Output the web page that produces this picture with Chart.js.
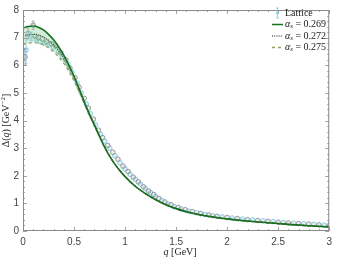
<!DOCTYPE html>
<html>
<head>
<meta charset="utf-8">
<script src="https://cdn.jsdelivr.net/npm/chart.js@4"></script>
<style>
  html, body { margin: 0; padding: 0; background: #fff; }
  #wrap { width: 337px; height: 259px; }
</style>
</head>
<body>
<div id="wrap"><canvas id="chart" width="337" height="259"></canvas></div>
<script>
// curvas teoricas
const qCurve = [0, 0.05, 0.1, 0.15, 0.2, 0.25, 0.3, 0.35, 0.4, 0.45, 0.5, 0.55, 0.6, 0.65, 0.7, 0.75, 0.8, 0.85, 0.9, 0.95, 1.0,
  1.1, 1.2, 1.3, 1.4, 1.5, 1.6, 1.8, 2.0, 2.2, 2.4, 2.6, 2.8, 3.0];
const delta269 = [7.35, 7.4, 7.42, 7.38, 7.28, 7.12, 6.92, 6.66, 6.36, 6.0, 5.6, 5.15, 4.68, 4.24, 3.84, 3.42, 3.04, 2.7, 2.42, 2.18, 1.97,
  1.62, 1.35, 1.13, 0.95, 0.81, 0.7, 0.54, 0.44, 0.36, 0.3, 0.24, 0.19, 0.15];
const delta272 = [7.05, 7.1, 7.12, 7.1, 7.03, 6.9, 6.74, 6.52, 6.25, 5.92, 5.55, 5.12, 4.66, 4.22, 3.83, 3.42, 3.04, 2.7, 2.42, 2.18, 1.97,
  1.62, 1.35, 1.13, 0.95, 0.81, 0.7, 0.54, 0.44, 0.36, 0.3, 0.24, 0.19, 0.15];
const delta275 = [6.75, 6.8, 6.82, 6.8, 6.74, 6.63, 6.49, 6.3, 6.07, 5.78, 5.44, 5.05, 4.62, 4.2, 3.82, 3.41, 3.03, 2.7, 2.42, 2.18, 1.97,
  1.62, 1.35, 1.13, 0.95, 0.81, 0.7, 0.54, 0.44, 0.36, 0.3, 0.24, 0.19, 0.15];

// datos de la red (dos conjuntos)
const latQ1 = [0.03, 0.08, 0.13, 0.17, 0.21, 0.26, 0.3, 0.35, 0.39, 0.44, 0.48, 0.53, 0.57, 0.62, 0.66, 0.71, 0.76, 0.8, 0.85, 0.9, 0.95,
  1.0, 1.05, 1.1, 1.15, 1.2, 1.25, 1.3, 1.36, 1.42, 1.48, 1.55, 1.62, 1.7, 1.78, 1.86, 1.95, 2.05, 2.15, 2.25, 2.35, 2.45, 2.55, 2.65, 2.75, 2.85, 2.95];
const latD1 = [6.55, 7.05, 6.95, 6.85, 6.8, 6.75, 6.65, 6.5, 6.3, 6.05, 5.75, 5.35, 5.0, 4.6, 4.25, 3.85, 3.5, 3.25, 3.0, 2.72, 2.47,
  2.25, 2.05, 1.87, 1.7, 1.53, 1.39, 1.25, 1.1, 0.98, 0.88, 0.8, 0.72, 0.66, 0.6, 0.55, 0.51, 0.47, 0.43, 0.4, 0.37, 0.34, 0.31, 0.28, 0.26, 0.24, 0.21];
const latE1 = [0.5, 0.15, 0.1, 0.06, 0.05, 0.05, 0.04, 0.04, 0.04, 0.03, 0.03, 0.03, 0.03, 0.03, 0.02, 0.02, 0.02, 0.02, 0.02, 0.02, 0.02,
  0.02, 0.02, 0.02, 0.02, 0.02, 0.01, 0.01, 0.01, 0.01, 0.01, 0.01, 0.01, 0.01, 0.01, 0.01, 0.01, 0.01, 0.01, 0.01, 0.01, 0.01, 0.01, 0.01, 0.01, 0.01, 0.01];
const latQ2 = [0.02, 0.05, 0.1, 0.12, 0.15, 0.19, 0.23, 0.28, 0.32, 0.37, 0.42, 0.46, 0.51, 0.55, 0.6, 0.64, 0.69, 0.74, 0.78, 0.83, 0.88, 0.93,
  0.98, 1.03, 1.08, 1.13, 1.18, 1.23, 1.28, 1.33, 1.39, 1.45, 1.52, 1.59, 1.66, 1.74, 1.82, 1.9, 2.0, 2.1, 2.2, 2.3, 2.4, 2.5, 2.6, 2.7, 2.8, 2.9, 3.0];
const latD2 = [6.3, 7.15, 7.45, 7.05, 7.0, 6.95, 6.85, 6.78, 6.7, 6.45, 6.2, 5.9, 5.55, 5.2, 4.8, 4.45, 4.05, 3.65, 3.38, 3.1, 2.85, 2.6,
  2.35, 2.15, 1.95, 1.78, 1.6, 1.45, 1.32, 1.18, 1.05, 0.95, 0.85, 0.77, 0.7, 0.63, 0.58, 0.53, 0.49, 0.45, 0.41, 0.38, 0.35, 0.32, 0.29, 0.27, 0.25, 0.22, 0.2];
const latE2 = [0.3, 0.2, 0.15, 0.08, 0.06, 0.05, 0.05, 0.04, 0.04, 0.04, 0.03, 0.03, 0.03, 0.03, 0.03, 0.02, 0.02, 0.02, 0.02, 0.02, 0.02, 0.02,
  0.02, 0.02, 0.02, 0.02, 0.02, 0.01, 0.01, 0.01, 0.01, 0.01, 0.01, 0.01, 0.01, 0.01, 0.01, 0.01, 0.01, 0.01, 0.01, 0.01, 0.01, 0.01, 0.01, 0.01, 0.01, 0.01, 0.01];

const xTicks = [0, 0.5, 1, 1.5, 2, 2.5, 3];
const yTicks = [0, 1, 2, 3, 4, 5, 6, 7, 8];
const alphaLabels = ['0.269', '0.272', '0.275'];

const serif = "'Liberation Serif', 'DejaVu Serif', serif";
const sans = "'Liberation Sans', 'DejaVu Sans', sans-serif";
const green = '#17701f';
const olive = '#9a9a5c';
const blueLat = '#7fc6e4';
const grayLat = '#8e8e8e';

const toXY = (xs, ys) => xs.map((x, i) => ({ x: x, y: ys[i] }));

// dibuja trozos de texto con distinto estilo uno tras otro
function drawRuns(ctx, runs, x, y) {
  let cx = x;
  runs.forEach(r => {
    ctx.font = r.font;
    ctx.fillText(r.t, cx, y + (r.dy || 0));
    cx += ctx.measureText(r.t).width;
  });
  return cx;
}
function runsWidth(ctx, runs) {
  let w = 0;
  runs.forEach(r => { ctx.font = r.font; w += ctx.measureText(r.t).width; });
  return w;
}

// marco, ticks hacia dentro, barras de error, titulos y leyenda
const framePlugin = {
  id: 'frame',
  afterDatasetsDraw(chart) {
    const { ctx, chartArea: a, scales } = chart;
    const xs = scales.x, ys = scales.y;
    ctx.save();
    chart.data.datasets.forEach(ds => {
      if (!ds.err) return;
      ctx.strokeStyle = ds.errColor;
      ctx.lineWidth = 0.8;
      ds.data.forEach((p, i) => {
        const e = ds.err[i];
        const px = xs.getPixelForValue(p.x);
        const top = ys.getPixelForValue(p.y + e);
        const bot = ys.getPixelForValue(p.y - e);
        if (bot - top < 6) return;
        ctx.beginPath();
        ctx.moveTo(px, top); ctx.lineTo(px, bot);
        ctx.moveTo(px - 1.5, top); ctx.lineTo(px + 1.5, top);
        ctx.moveTo(px - 1.5, bot); ctx.lineTo(px + 1.5, bot);
        ctx.stroke();
      });
    });
    // marco
    ctx.strokeStyle = '#8a8a8a';
    ctx.lineWidth = 1;
    ctx.strokeRect(a.left + 0.5, a.top + 0.5, a.right - a.left - 1, a.bottom - a.top - 1);
    ctx.lineWidth = 0.8;
    ctx.beginPath();
    for (let v = 0; v <= 30; v++) {
      const px = Math.round(xs.getPixelForValue(v / 10)) + 0.5;
      const len = v % 5 === 0 ? 4 : 2;
      ctx.moveTo(px, a.bottom); ctx.lineTo(px, a.bottom - len);
      ctx.moveTo(px, a.top); ctx.lineTo(px, a.top + len);
    }
    for (let v = 0; v <= 40; v++) {
      const py = Math.round(ys.getPixelForValue(v / 5)) + 0.5;
      const len = v % 5 === 0 ? 4 : 2;
      ctx.moveTo(a.left, py); ctx.lineTo(a.left + len, py);
      ctx.moveTo(a.right, py); ctx.lineTo(a.right - len, py);
    }
    ctx.stroke();

    // titulos de ejes
    const it = 'italic 10px ' + serif, rm = '10px ' + serif, sm = '7px ' + serif;
    ctx.fillStyle = '#222';
    ctx.textBaseline = 'middle';
    ctx.textAlign = 'left';
    const xRuns = [{ t: 'q', font: it }, { t: ' [GeV]', font: rm }];
    const xw = runsWidth(ctx, xRuns);
    drawRuns(ctx, xRuns, (a.left + a.right) / 2 - xw / 2 + 4, 252.5);

    const yRuns = [{ t: 'Δ(', font: rm }, { t: 'q', font: it }, { t: ') [GeV', font: rm }, { t: '−2', font: sm, dy: -3 }, { t: ']', font: rm }];
    const yw = runsWidth(ctx, yRuns);
    ctx.save();
    ctx.translate(6, (a.top + a.bottom) / 2);
    ctx.rotate(-Math.PI / 2);
    drawRuns(ctx, yRuns, -yw / 2, 0);
    ctx.restore();

    // leyenda
    const lx = 272, ty = 13, step = 11.5;
    ctx.strokeStyle = blueLat;
    ctx.lineWidth = 0.8;
    ctx.beginPath();
    ctx.moveTo(277.5, ty - 5); ctx.lineTo(277.5, ty + 5);
    ctx.moveTo(276, ty - 5); ctx.lineTo(279, ty - 5);
    ctx.moveTo(276, ty + 5); ctx.lineTo(279, ty + 5);
    ctx.stroke();
    ctx.beginPath(); ctx.arc(277.5, ty, 1.2, 0, Math.PI * 2); ctx.stroke();
    ctx.font = rm;
    ctx.fillText('Lattice', 285, ty);
    const styles = [
      { color: green, dash: [], w: 1.5 },
      { color: '#111', dash: [1, 1.2], w: 1.2 },
      { color: olive, dash: [3, 3], w: 1.4 }
    ];
    styles.forEach((s, i) => {
      const y = ty + step * (i + 1);
      ctx.strokeStyle = s.color;
      ctx.lineWidth = s.w;
      ctx.setLineDash(s.dash);
      ctx.beginPath(); ctx.moveTo(lx, y); ctx.lineTo(lx + 11, y); ctx.stroke();
      ctx.setLineDash([]);
      drawRuns(ctx, [{ t: 'α', font: it }, { t: 's', font: 'italic 7px ' + serif, dy: 2 }, { t: ' = ' + alphaLabels[i], font: rm }], 285, y);
    });
    ctx.restore();
  }
};

new Chart(document.getElementById('chart').getContext('2d'), {
  type: 'scatter',
  data: {
    datasets: [
      {
        label: 'αs = ' + alphaLabels[0],
        data: toXY(qCurve, delta269),
        showLine: true,
        borderColor: green,
        borderWidth: 1.6,
        pointRadius: 0,
        cubicInterpolationMode: 'monotone',
        fill: { target: 2 },
        backgroundColor: 'rgba(130, 210, 150, 0.35)',
        order: 1
      },
      {
        label: 'αs = ' + alphaLabels[1],
        data: toXY(qCurve, delta272),
        showLine: true,
        borderColor: '#111',
        borderWidth: 1.2,
        borderDash: [1, 1.2],
        pointRadius: 0,
        cubicInterpolationMode: 'monotone',
        order: 1
      },
      {
        label: 'αs = ' + alphaLabels[2],
        data: toXY(qCurve, delta275),
        showLine: true,
        borderColor: olive,
        borderWidth: 1.4,
        borderDash: [3, 3],
        pointRadius: 0,
        cubicInterpolationMode: 'monotone',
        order: 1
      },
      {
        label: 'Lattice',
        data: toXY(latQ1, latD1),
        err: latE1,
        errColor: blueLat,
        pointRadius: 2.3,
        borderWidth: 0.9,
        borderColor: blueLat,
        backgroundColor: 'rgba(127, 198, 228, 0.25)',
        order: 3
      },
      {
        label: 'Lattice 2',
        data: toXY(latQ2, latD2),
        err: latE2,
        errColor: '#a0a0a0',
        pointRadius: 2.3,
        borderWidth: 0.9,
        borderColor: grayLat,
        backgroundColor: 'rgba(160, 160, 160, 0.2)',
        order: 2
      }
    ]
  },
  options: {
    responsive: false,
    animation: false,
    layout: { padding: { top: 3, right: 3, left: 0, bottom: 0 } },
    plugins: { legend: { display: false }, tooltip: { enabled: false } },
    scales: {
      x: {
        type: 'linear', min: 0, max: 3,
        afterBuildTicks: s => { s.ticks = xTicks.map(v => ({ value: v })); },
        afterFit: s => { s.height = 28; },
        ticks: { font: { family: sans, size: 10 }, color: '#444', padding: 5, maxRotation: 0, callback: v => String(v) },
        grid: { display: false, drawTicks: false, tickLength: 0 },
        border: { display: false },
        title: { display: false }
      },
      y: {
        type: 'linear', min: 0, max: 8,
        afterBuildTicks: s => { s.ticks = yTicks.map(v => ({ value: v })); },
        afterFit: s => { s.width = 23; },
        ticks: { font: { family: sans, size: 10 }, color: '#444', padding: 4, callback: v => String(v) },
        grid: { display: false, drawTicks: false, tickLength: 0 },
        border: { display: false },
        title: { display: false }
      }
    }
  },
  plugins: [framePlugin]
});
</script>
</body>
</html>
